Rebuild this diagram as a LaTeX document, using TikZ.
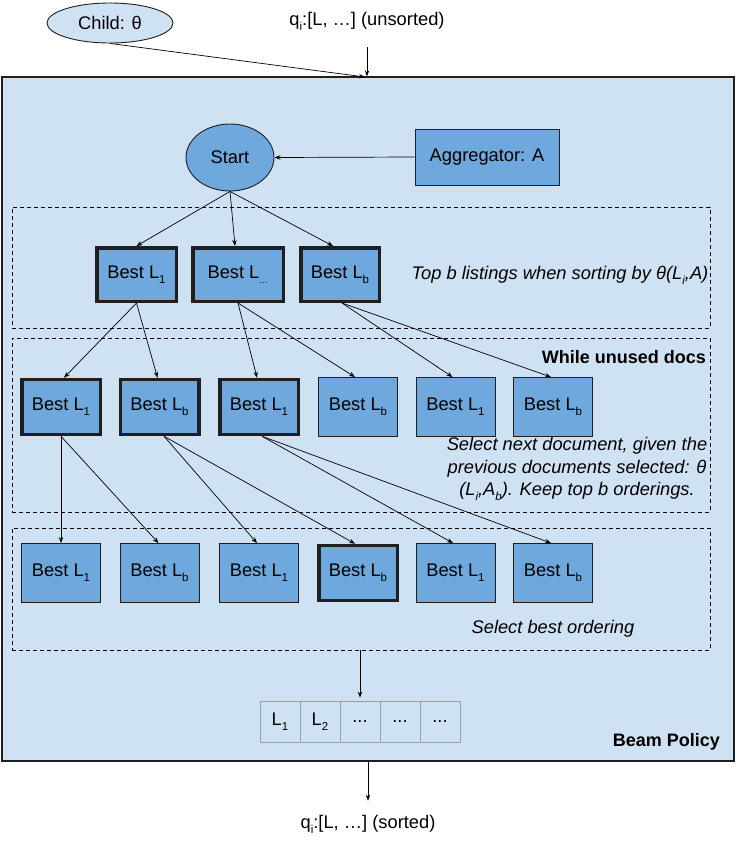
\documentclass[tikz,border=0pt]{standalone}
\usepackage{fontspec}
\setmainfont{Liberation Sans}
\usetikzlibrary{arrows.meta,shapes.geometric}
\definecolor{bgblue}{HTML}{CFE2F3}
\definecolor{nodeblue}{HTML}{6FA8DC}
\definecolor{edgec}{HTML}{1F1F1F}
\newcommand\lsub[1]{\raisebox{-0.5ex}{\fontsize{11.5}{11.5}\selectfont #1}}
\begin{document}
\begin{tikzpicture}[x=1pt,y=-1pt, font=\fontsize{18.3}{21}\selectfont,
 arr/.style={-{Stealth[length=6pt,width=4.5pt]}, line width=0.7pt, draw=black},
 box/.style={draw=edgec, fill=nodeblue, line width=0.9pt, minimum width=79pt, minimum height=59pt, inner sep=0pt},
 thickbox/.style={box, line width=3.5pt, minimum width=78.5pt, minimum height=55pt},
 dbox/.style={draw=black, dash pattern=on 4pt off 3pt, line width=0.8pt, minimum width=698pt, inner sep=0pt},
 cell/.style={draw=gray!75, line width=0.9pt, minimum width=40pt, minimum height=41pt, inner sep=0pt},
 note/.style={font=\fontsize{18.3}{22.5}\selectfont\itshape, align=center, inner sep=0pt},
 bold/.style={font=\fontsize{18}{21}\selectfont\bfseries, inner sep=0pt},
 plain/.style={inner sep=0pt},
]
\useasboundingbox (0,0) rectangle (741,855);
% main box
\node[draw=edgec, fill=bgblue, line width=1.4pt, minimum width=732pt, minimum height=684pt, inner sep=0pt] (main) at (368,419) {};
% dashed groups
\node[dbox, minimum height=121pt] (d1) at (361,267.5) {};
\node[dbox, minimum height=174pt] (d2) at (361,425) {};
\node[dbox, minimum height=122pt] (d3) at (361,589) {};

% top
\node[ellipse, draw=edgec, fill=bgblue, line width=0.9pt, minimum width=126pt, minimum height=40pt, inner sep=0pt] (child) at (110,23) {Child: θ};
\node[plain] (unsorted) at (367,21) {q\lsub{i}:[L, …] (unsorted)};
\coordinate (intop) at (365,77);
\draw[arr] (child.south) -- (intop);
\draw[arr] (unsorted.south |- 0,47) -- (unsorted.south |- main.north);

% start and aggregator
\node[ellipse, draw=edgec, fill=nodeblue, line width=0.9pt, minimum width=88pt, minimum height=67pt, inner sep=0pt] (start) at (230,157.5) {Start};
\node[box, minimum width=144pt, minimum height=56pt] (agg) at (487,157) {Aggregator: A};
\draw[arr] (agg.west) -- (start.east);

% row 1
\node[thickbox, minimum width=79.5pt, minimum height=53.5pt] (r1a) at (136.5,274.5) {Best L\lsub{1}};
\node[thickbox, minimum width=90.5pt, minimum height=53.5pt] (r1b) at (238,274.5) {Best L\lsub{\fontsize{9}{9}\selectfont …}};
\node[thickbox, minimum width=78.5pt, minimum height=53.5pt] (r1c) at (340,274.5) {Best L\lsub{b}};
\node[note] (n1) at (560,275) {Top b listings when sorting by θ(L\lsub{i},A)};

% row 2
\node[thickbox] (r2a) at (61,407) {Best L\lsub{1}};
\node[thickbox] (r2b) at (159.5,407) {Best L\lsub{b}};
\node[thickbox] (r2c) at (259,407) {Best L\lsub{1}};
\node[box] (r2d) at (358,407) {Best L\lsub{b}};
\node[box] (r2e) at (455.5,407) {Best L\lsub{1}};
\node[box] (r2f) at (553,407) {Best L\lsub{b}};
\node[bold, anchor=east] (w) at (706,357) {While unused docs};
\node[note] (n2) at (577,469) {Select next document, given the\\previous documents selected: θ\\(L\lsub{i},A\lsub{b}). Keep top b orderings.};

% row 3
\node[box] (r3a) at (61,573) {Best L\lsub{1}};
\node[box] (r3b) at (159.5,573) {Best L\lsub{b}};
\node[box] (r3c) at (259,573) {Best L\lsub{1}};
\node[thickbox] (r3d) at (358,573) {Best L\lsub{b}};
\node[box] (r3e) at (455.5,573) {Best L\lsub{1}};
\node[box] (r3f) at (553,573) {Best L\lsub{b}};
\node[note] (n3) at (553,629) {Select best ordering};

% cells
\node[cell] (c1) at (280,721.5) {L\lsub{1}};
\node[cell] (c2) at (320,721.5) {L\lsub{2}};
\node[cell] (c3) at (360,721.5) {...};
\node[cell] (c4) at (400,721.5) {...};
\node[cell] (c5) at (440,721.5) {...};
\node[bold, anchor=east] (bp) at (720,742) {Beam Policy};

% bottom
\node[plain] (sorted) at (368,824) {q\lsub{i}:[L, …] (sorted)};

% arrows
\draw[arr] (start.south) -- (r1a.north);
\draw[arr] (start.south) -- ([xshift=-3pt]r1b.north);
\draw[arr] (start.south) -- ([xshift=-7pt]r1c.north);

\draw[arr] (r1a.south) -- ([xshift=3pt]r2a.north);
\draw[arr] (r1a.south) -- ([xshift=-2pt]r2b.north);
\draw[arr] (r1b.south) -- ([xshift=-2pt]r2c.north);
\draw[arr] (r1b.south) -- ([xshift=-3pt]r2d.north);
\draw[arr] ([xshift=2pt]r1c.south) -- ([xshift=-3pt]r2e.north);
\draw[arr] ([xshift=2pt]r1c.south) -- ([xshift=-2pt]r2f.north);

\draw[arr] (r2a.south) -- (r3a.north);
\draw[arr] (r2a.south) -- ([xshift=-1pt]r3b.north);
\draw[arr] ([xshift=4.5pt]r2b.south) -- ([xshift=-2pt]r3c.north);
\draw[arr] ([xshift=4.5pt]r2b.south) -- ([xshift=-3pt]r3d.north);
\draw[arr] ([xshift=3pt]r2c.south) -- ([xshift=-2.5pt]r3e.north);
\draw[arr] ([xshift=3pt]r2c.south) -- ([xshift=-2pt]r3f.north);

\draw[arr] (d3.south -| c3.north) -- ([yshift=3pt]c3.north);
\draw[arr] (main.south) -- ([yshift=14pt]sorted.north);
\end{tikzpicture}
\end{document}
